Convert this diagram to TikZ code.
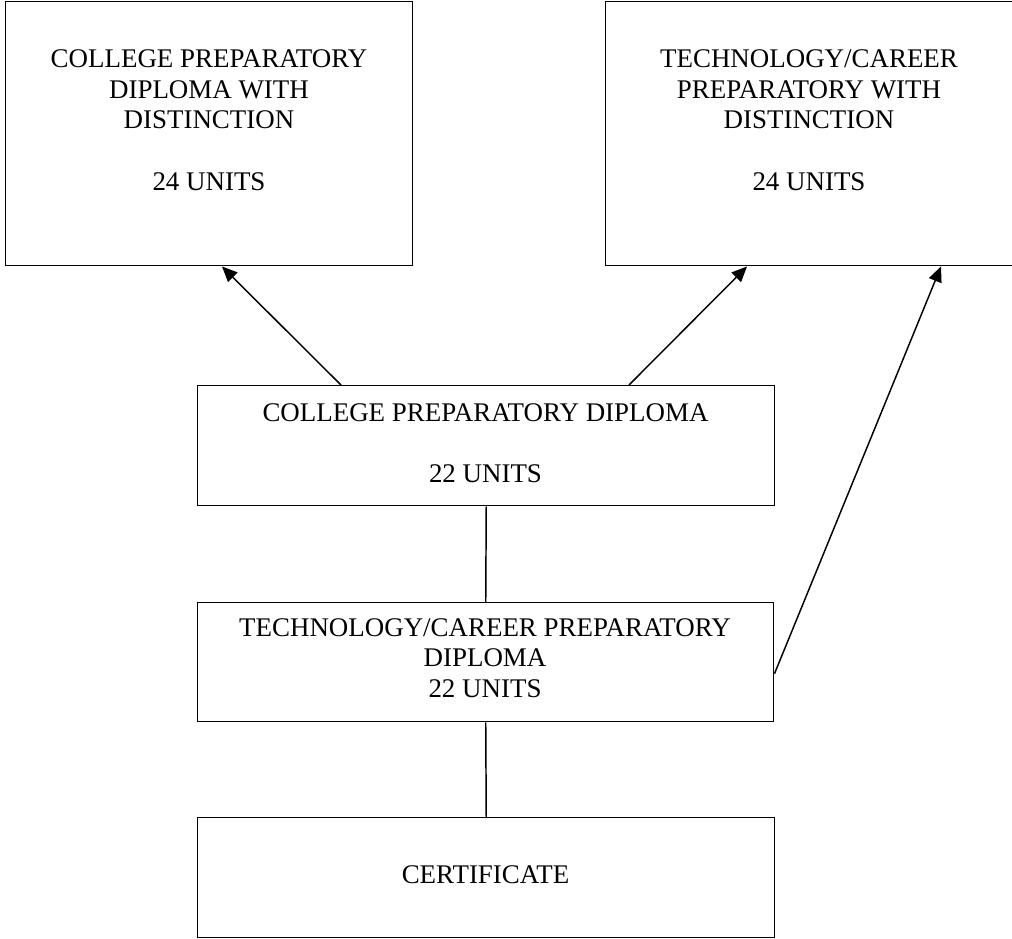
\documentclass[tikz,border=0pt]{standalone}
\usepackage{fontspec}
\setmainfont{Liberation Serif}
\usetikzlibrary{arrows.meta}
\begin{document}
\begin{tikzpicture}[x=0.75pt,y=-0.75pt,
  box/.style={draw=black,line width=1.1pt,rectangle,inner sep=0pt,anchor=north west,fill=none},
  label/.style={inner sep=0pt,align=center,font=\fontsize{20.2}{23}\selectfont},
  conn/.style={draw=black,line width=1.1pt},
  arr/.style={conn,-{Triangle[length=11.5pt,width=10pt]}}]
\useasboundingbox (0,0) rectangle (1012,938);
\node[box,minimum width=305.25pt,minimum height=198pt] (b1) at (5,1) {};
\node[box,minimum width=306pt,minimum height=198pt] (b2) at (605,1) {};
\node[box,minimum width=432.75pt,minimum height=90pt] (b3) at (197,385) {};
\node[box,minimum width=432pt,minimum height=89.25pt] (b4) at (197,602) {};
\node[box,minimum width=432.75pt,minimum height=90pt] (b5) at (197,817) {};
\node[label] (t1) at (209,120) {COLLEGE PREPARATORY\\DIPLOMA WITH\\DISTINCTION\\[23pt]24 UNITS};
\node[label] (t2) at (809,120) {TECHNOLOGY/CAREER\\PREPARATORY WITH\\DISTINCTION\\[23pt]24 UNITS};
\node[label] (t3) at (485.5,443) {COLLEGE PREPARATORY DIPLOMA\\[23pt]22 UNITS};
\node[label] (t4) at (485,658) {TECHNOLOGY/CAREER PREPARATORY\\DIPLOMA\\22 UNITS};
\node[label] (t5) at (485.5,875) {CERTIFICATE};
\draw[arr] ([xshift=108pt]b3.north west) -- ([xshift=162.75pt]b1.south west);
\draw[arr] ([xshift=324pt]b3.north west) -- ([xshift=106.5pt]b2.south west);
\draw[arr] ([yshift=-8.6pt]b4.east) -- ([xshift=252pt]b2.south west);
\draw[conn] (b3.south) -- (b4.north);
\draw[conn] (b4.south) -- (b5.north);
\end{tikzpicture}
\end{document}
